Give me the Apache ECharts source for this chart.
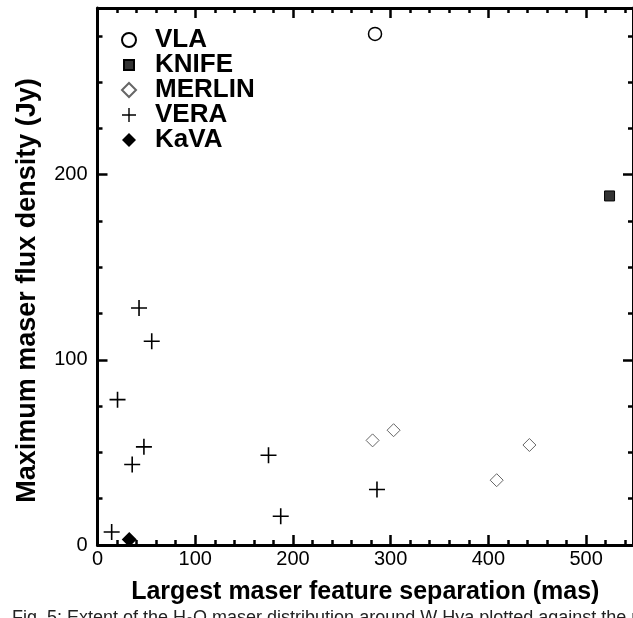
<!DOCTYPE html>
<html><head><meta charset="utf-8">
<script src="https://cdn.jsdelivr.net/npm/echarts@6/dist/echarts.min.js"></script>
<style>html,body{margin:0;padding:0;background:#fff}#c{width:633px;height:618px}</style>
</head><body><div id="c"></div>
<script>
// ---- data ----
const seriesNames = ['VLA', 'KNIFE', 'MERLIN', 'VERA', 'KaVA'];
const vlaX = [284];
const vlaY = [276];
const knifeX = [524];
const knifeY = [188.5];
const merlinX = [281.5, 303, 408.5, 442];
const merlinY = [56.5, 62, 35, 54];
const veraX = [14.5, 20.5, 35.5, 42.5, 47.5, 55.5, 175, 187.5, 286];
const veraY = [7, 78.5, 43.5, 128, 53, 110, 48.5, 15.5, 30];
const kavaX = [32.5];
const kavaY = [3];
const xTickLabels = ['0', '100', '200', '300', '400', '500'];
const yTickLabels = ['0', '100', '200'];
const xTitle = 'Largest maser feature separation (mas)';
const yTitle = 'Maximum maser flux density (Jy)';
const caption = 'Fig. 5: Extent of the H\u2082O maser distribution around W Hya plotted against the maximum';

const FF = 'Liberation Sans';
const zip = (xs, ys) => xs.map((x, i) => [x, ys[i]]);
const PLUS = 'path://M7.2,0h1.6v16h-1.6zM0,7.2h16v1.6h-16z';
const SQ_LEGEND = 'path://M0,0M14,14M2,2h10v10h-10z';

const axisLine = { show: true, onZero: false, lineStyle: { color: '#000', width: 3 } };
function xAx(pos, labels) {
  return {
    type: 'value', position: pos, min: 0, max: 548, interval: 100,
    axisLine: axisLine,
    axisTick: { show: true, inside: true, length: 10, lineStyle: { color: '#000', width: 2.5 } },
    minorTick: { show: true, splitNumber: 5, length: 5, lineStyle: { color: '#000', width: 2.5 } },
    splitLine: { show: false }, minorSplitLine: { show: false },
    axisLabel: labels ? { show: true, fontSize: 20, fontFamily: FF, color: '#000', margin: 4, showMaxLabel: false,
      formatter: v => xTickLabels[Math.round(v / 100)] || '' } : { show: false },
    name: labels ? xTitle : '', nameLocation: 'middle', nameGap: 35,
    nameTextStyle: { fontSize: 25, fontWeight: 'bold', fontFamily: FF, color: '#000' }
  };
}
function yAx(pos, labels) {
  return {
    type: 'value', position: pos, min: 0, max: 290, interval: 100,
    axisLine: axisLine,
    axisTick: { show: true, inside: true, length: 10, lineStyle: { color: '#000', width: 2.5 } },
    minorTick: { show: true, splitNumber: 4, length: 5, lineStyle: { color: '#000', width: 2.5 } },
    splitLine: { show: false }, minorSplitLine: { show: false },
    axisLabel: labels ? { show: true, fontSize: 20, fontFamily: FF, color: '#000', margin: 10, showMaxLabel: false,
      formatter: v => yTickLabels[Math.round(v / 100)] || '' } : { show: false },
    name: labels ? yTitle : '', nameLocation: 'middle', nameGap: 56, nameRotate: 90,
    nameTextStyle: { fontSize: 27, fontWeight: 'bold', fontFamily: FF, color: '#000', padding: [0, 28, 0, 0] }
  };
}

const chart = echarts.init(document.getElementById('c'), null, { renderer: 'canvas' });
chart.setOption({
  animation: false,
  backgroundColor: '#fff',
  grid: { left: 97.5, right: 0, top: 8, bottom: 73, containLabel: false },
  xAxis: [xAx('bottom', true), xAx('top', false)],
  yAxis: [yAx('left', true), yAx('right', false)],
  legend: {
    orient: 'vertical', left: 116, top: 22, itemWidth: 14, itemHeight: 14, itemGap: -1,
    textStyle: { fontSize: 26, lineHeight: 25, fontWeight: 'bold', fontFamily: FF, color: '#000', padding: [0, 0, 0, 14] },
    data: [
      { name: 'VLA', icon: 'circle' },
      { name: 'KNIFE', icon: SQ_LEGEND },
      { name: 'MERLIN', icon: 'diamond' },
      { name: 'VERA', icon: PLUS },
      { name: 'KaVA', icon: 'diamond' }
    ]
  },
  series: [
    { name: seriesNames[0], type: 'scatter', data: zip(vlaX, vlaY), symbol: 'circle', symbolSize: 13,
      itemStyle: { color: '#fff', borderColor: '#000', borderWidth: 1.5, opacity: 1 } },
    { name: seriesNames[1], type: 'scatter', data: zip(knifeX, knifeY), symbol: 'rect', symbolSize: 10,
      itemStyle: { color: '#333', borderColor: '#000', borderWidth: 1, opacity: 1 } },
    { name: seriesNames[2], type: 'scatter', data: zip(merlinX, merlinY), symbol: 'diamond', symbolSize: 13,
      itemStyle: { color: '#fff', borderColor: '#666', borderWidth: 1, opacity: 1 } },
    { name: seriesNames[3], type: 'scatter', data: zip(veraX, veraY), symbol: PLUS, symbolSize: 16,
      itemStyle: { color: '#000', borderWidth: 0, opacity: 1 } },
    { name: seriesNames[4], type: 'scatter', data: zip(kavaX, kavaY), symbol: 'diamond', symbolSize: 15,
      itemStyle: { color: '#000', borderWidth: 0, opacity: 1 } }
  ],
  graphic: [{
    type: 'text', left: 12, top: 609,
    style: { text: caption, font: '18px "Liberation Sans"', fill: '#222' }
  }]
});
</script></body></html>
